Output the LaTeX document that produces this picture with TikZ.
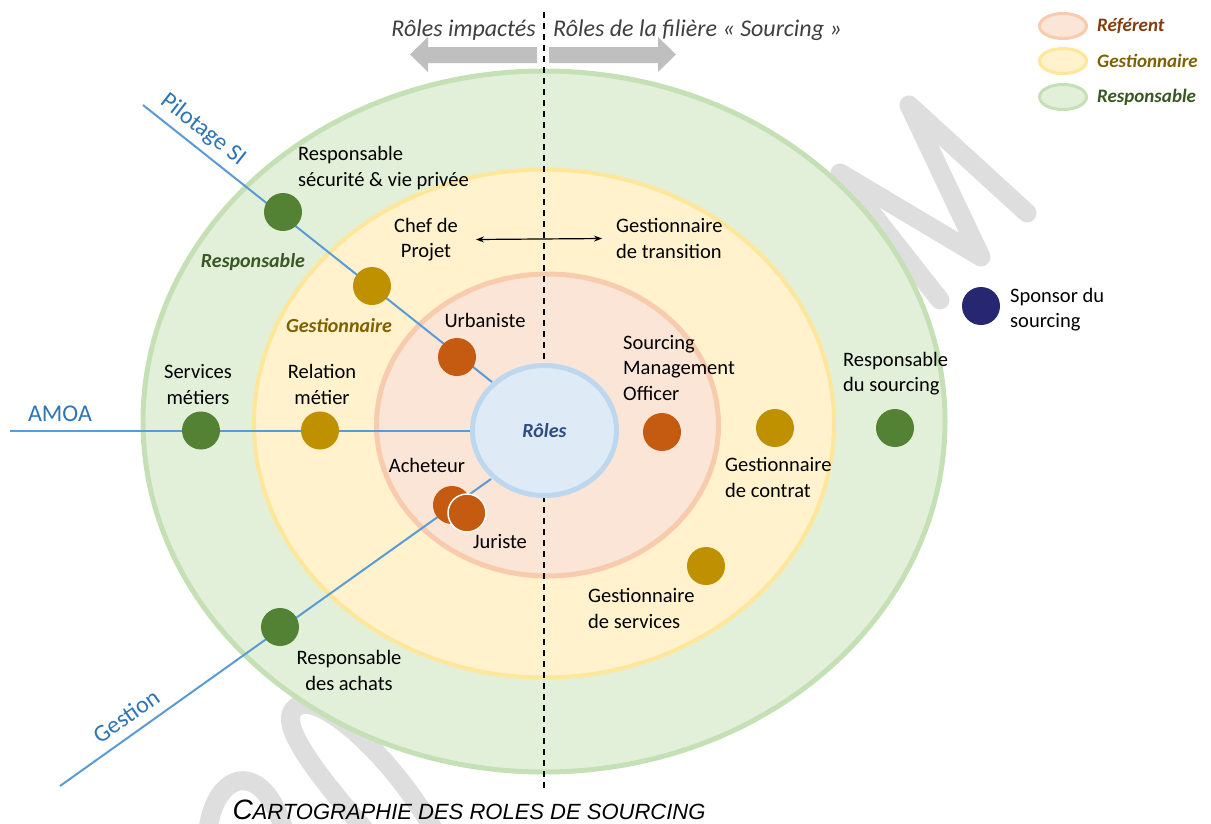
\documentclass[tikz,border=0pt]{standalone}
\usepackage{fontspec}
\setmainfont{Carlito}
\newfontfamily\capfont{Liberation Sans}
\usetikzlibrary{shapes.geometric,arrows.meta}
\definecolor{gFill}{HTML}{E2F0D9}
\definecolor{gLine}{HTML}{C5E0B4}
\definecolor{yFill}{HTML}{FFF2CC}
\definecolor{yLine}{HTML}{FFE699}
\definecolor{pFill}{HTML}{FBE5D6}
\definecolor{pLine}{HTML}{F8CBAD}
\definecolor{bFill}{HTML}{DEEBF7}
\definecolor{bLine}{HTML}{BDD7EE}
\definecolor{dotG}{HTML}{548235}
\definecolor{dotY}{HTML}{BF9000}
\definecolor{dotO}{HTML}{C55A11}
\definecolor{dotN}{HTML}{262671}
\definecolor{axis}{HTML}{5B9BD5}
\definecolor{axisTxt}{HTML}{2E75B6}
\definecolor{txtG}{HTML}{385723}
\definecolor{txtY}{HTML}{7F6000}
\definecolor{txtO}{HTML}{843C0C}
\definecolor{rolesTxt}{HTML}{2F4B85}
\definecolor{wm}{HTML}{DEDEDE}
\definecolor{arrowGray}{HTML}{BFBFBF}
\definecolor{head}{HTML}{404040}
\begin{document}
\begin{tikzpicture}[x=1pt,y=-1pt,
  ring/.style={ellipse, inner sep=0pt},
  dot/.style={circle, minimum size=38pt, inner sep=0pt},
  lbl/.style={font=\fontsize{20.5}{25.5}\selectfont, inner sep=0pt, text=black},
  lblL/.style={lbl, align=left, anchor=west},
  lblC/.style={lbl, align=center},
  ringlbl/.style={font=\fontsize{20}{24}\selectfont\bfseries\itshape, inner sep=0pt},
  legring/.style={ellipse, minimum width=47pt, minimum height=25pt, inner sep=0pt, line width=3pt},
  leglbl/.style={font=\fontsize{19}{22}\selectfont\bfseries\itshape, inner sep=0pt, anchor=west},
  axisline/.style={draw=axis, line width=2pt},
  axislbl/.style={font=\fontsize{24}{28}\selectfont, text=axisTxt, inner sep=0pt},
  wmstroke/.style={draw=wm, line width=19pt, line cap=round, line join=round},
  blockarrow/.style={fill=arrowGray, draw=none},
  toplbl/.style={font=\fontsize{24}{28}\selectfont\itshape, text=head, inner sep=0pt}
]
\useasboundingbox (0,0) rectangle (1211,823);
\fill[white] (0,0) rectangle (1211,823);

% watermark
\draw[wmstroke] (940,300) -- (840,173) -- (981,257) -- (909,105) -- (1027,213);
\draw[wmstroke] (365,830) .. controls (300,755) and (275,715) .. (300,705) .. controls (325,697) and (390,755) .. (434,830);
\draw[wmstroke] (208,830) .. controls (215,772) and (262,757) .. (284,830);

% rings
\node[ring, minimum width=802pt, minimum height=701pt, fill=gFill, draw=gLine, line width=5pt] (ringG) at (544,421.5) {};
\node[ring, minimum width=580pt, minimum height=508pt, fill=yFill, draw=yLine, line width=4pt] (ringY) at (544,423.5) {};
\node[ring, minimum width=342pt, minimum height=302pt, fill=pFill, draw=pLine, line width=5pt] (ringP) at (547.5,425) {};

% dashed divider
\coordinate (dtop) at (544,12);
\coordinate (dbot) at (544,788);
\draw[black, line width=1.4pt, dash pattern=on 6pt off 5pt] (dtop) -- (dbot);

% axes
\coordinate (pilS) at (143,105);
\coordinate (pilE) at (492,382);
\coordinate (amoS) at (10,430.5);
\coordinate (gesS) at (60,786);
\coordinate (gesE) at (491,479);
\draw[axisline] (pilS) -- (pilE);
\draw[axisline] (gesS) -- (gesE);

% center
\node[ring, minimum width=144pt, minimum height=130pt, fill=bFill, draw=bLine, line width=5pt,
      font=\fontsize{20}{24}\selectfont\bfseries\itshape, text=rolesTxt] (roles) at (544.5,430.5) {Rôles};
\draw[axisline] (amoS) -- (roles.west);

\node[axislbl, rotate=-38] (pilLbl) at (203,130) {Pilotage SI};
\node[axislbl] (amoLbl) at (60,414) {AMOA};
\node[axislbl, rotate=35] (gesLbl) at (126,716) {Gestion};

% dots
\node[dot, fill=dotG] (dSecu) at (283,212) {};
\node[dot, fill=dotY] (dPil) at (372,286) {};
\node[dot, fill=dotO] (dUrb) at (457,357) {};
\node[dot, fill=dotG] (dServ) at (201,430.5) {};
\node[dot, fill=dotY] (dRel) at (320,430.5) {};
\node[dot, fill=dotO] (dAch) at (452,505) {};
\node[dot, fill=dotO, draw=white, line width=1.5pt] (dJur) at (467,513) {};
\node[dot, fill=dotO] (dSmo) at (662,432) {};
\node[dot, fill=dotY] (dCon) at (775,428) {};
\node[dot, fill=dotY] (dSvc) at (706,566) {};
\node[dot, fill=dotG] (dRso) at (895,428) {};
\node[dot, fill=dotN] (dSpo) at (981,306) {};
\node[dot, fill=dotG] (dAchats) at (280,627) {};

% ring labels
\node[ringlbl, text=txtG] (lRes) at (253,262) {Responsable};
\node[ringlbl, text=txtY] (lGes) at (339,326) {Gestionnaire};

% labels
\node[lblL] (tSecu) at (298,168) {Responsable\\sécurité \& vie privée};
\node[lblC] (tChef) at (426,239.5) {Chef de\\Projet};
\node[lblL] (tTrans) at (616,238.5) {Gestionnaire\\de transition};
\node[lblC] (tServ) at (198,384.5) {Services\\métiers};
\node[lblC] (tRel) at (322,384.5) {Relation\\métier};
\node[lblC] (tUrb) at (485,320) {Urbaniste};
\node[lblC] (tAch) at (427,465) {Acheteur};
\node[lblC] (tJur) at (500,542) {Juriste};
\node[lblL] (tSmo) at (623,368) {Sourcing\\Management\\Officer};
\node[lblL] (tCon) at (725,477.5) {Gestionnaire\\de contrat};
\node[lblL] (tSvc) at (588,608.5) {Gestionnaire\\de services};
\node[lblL] (tRso) at (843,373.5) {Responsable\\du sourcing};
\node[lblL] (tSpo) at (1010,309.5) {Sponsor du\\sourcing};
\node[lblC] (tAchats) at (349,670.5) {Responsable\\des achats};

\draw[{Stealth[length=8pt,width=6pt]}-{Stealth[length=8pt,width=6pt]}, line width=1.2pt]
  ([xshift=18pt]tChef.east) -- ([xshift=-14pt]tTrans.west);

% top arrows
\fill[blockarrow] (537,47) -- (428,47) -- (428,37) -- (410,54.5) -- (428,72) -- (428,63) -- (537,63) -- cycle;
\fill[blockarrow] (549,47) -- (658,47) -- (658,37) -- (676,54.5) -- (658,72) -- (658,63) -- (549,63) -- cycle;
\node[toplbl, anchor=base east] (tImp) at (536,36) {Rôles impactés};
\node[toplbl, anchor=base west] (tFil) at (553,36) {Rôles de la filière « Sourcing »};

% legend
\node[legring, fill=pFill, draw=pLine] (legP) at (1063,26) {};
\node[legring, fill=yFill, draw=yLine] (legY) at (1063,61) {};
\node[legring, fill=gFill, draw=gLine] (legG) at (1063,97) {};
\node[leglbl, text=txtO] (legPt) at (1097,26) {Référent};
\node[leglbl, text=txtY] (legYt) at (1097,61) {Gestionnaire};
\node[leglbl, text=txtG] (legGt) at (1097,97) {Responsable};

% caption
\node[font=\capfont\itshape, inner sep=0pt, anchor=base] (cap) at (469,819)
  {{\fontsize{28}{28}\selectfont C}{\fontsize{22}{22}\selectfont ARTOGRAPHIE DES ROLES DE SOURCING}};
\end{tikzpicture}
\end{document}
